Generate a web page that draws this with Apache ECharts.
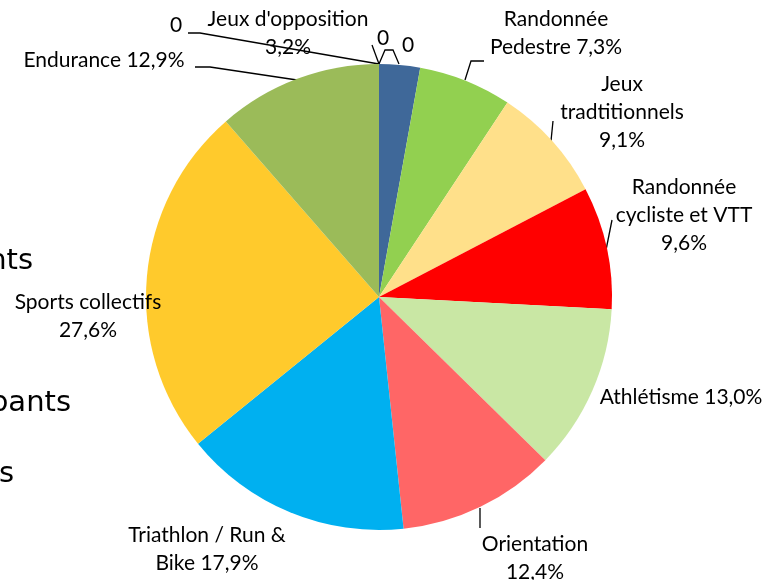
<!DOCTYPE html>
<html>
<head>
<meta charset="utf-8">
<script src="https://cdn.jsdelivr.net/npm/echarts@6/dist/echarts.min.js"></script>
<style>html,body{margin:0;padding:0;background:#fff}#c{width:769px;height:580px}</style>
</head>
<body>
<div id="c"></div>
<script>
// ---- data ----
var categories = ['', '', "Jeux d'opposition", 'Randonnée\nPedestre', 'Jeux\ntradtitionnels', 'Randonnée\ncycliste et VTT', 'Athlétisme', 'Orientation', 'Triathlon / Run &\nBike', 'Sports collectifs', 'Endurance', ''];
var values = [0, 0, 3.2, 7.3, 9.1, 9.6, 13.0, 12.4, 17.9, 27.6, 12.9, 0];
var separators = ['', '', '\n', ' ', '\n', '\n', ' ', '\n', ' ', '\n', ' ', ''];
var colors = ['#3F6899', '#3F6899', '#3F6899', '#92D050', '#FFE08A', '#FF0000', '#C9E7A4', '#FF6666', '#00B0F0', '#FFCA2C', '#9BBB59', '#9BBB59'];
var sideTexts = ['nts', 'pants', 's'];

// ---- layout (label placement) ----
var labelPos = [
  {x: 383, y: 38, line: [[379, 64], [372, 45]]},
  {x: 408, y: 45, line: [[379, 64], [385, 50], [393, 50], [399, 64]]},
  {x: 288, y: 33, line: null},
  {x: 556, y: 33, line: [[465, 80], [471, 61], [484, 61]]},
  {x: 622, y: 112, line: [[551, 141], [553, 121]]},
  {x: 684, y: 215, line: [[606, 250], [612, 220]]},
  {x: 681, y: 397, line: null},
  {x: 535, y: 558, line: [[480, 508], [480, 528]]},
  {x: 207, y: 549, line: null},
  {x: 88, y: 316, line: null},
  {x: 104, y: 60, line: [[297, 80], [210, 67], [195, 67]]},
  {x: 176, y: 25, line: [[379, 64], [200, 33], [188, 33]]}
];

function fmt(v) {
  var s = v.toFixed(1).replace('.', ',');
  return s + '%';
}

var data = categories.map(function (n, i) {
  return {
    name: n,
    value: values[i],
    itemStyle: {color: colors[i]},
    label: {formatter: values[i] === 0 ? '0' : n + separators[i] + fmt(values[i])},
    labelLine: {show: !!labelPos[i].line}
  };
});

var chart = echarts.init(document.getElementById('c'), null, {renderer: 'canvas'});
chart.setOption({
  animation: false,
  backgroundColor: '#ffffff',
  graphic: [
    {type: 'text', right: 769 - 33, top: 247, style: {text: sideTexts[0], font: '29px "DejaVu Sans"', fill: '#000'}},
    {type: 'text', right: 769 - 71, top: 389, style: {text: sideTexts[1], font: '29px "DejaVu Sans"', fill: '#000'}},
    {type: 'text', right: 769 - 14, top: 460, style: {text: sideTexts[2], font: '29px "DejaVu Sans"', fill: '#000'}}
  ],
  series: [{
    type: 'pie',
    center: [379, 297],
    radius: 233,
    startAngle: 90,
    clockwise: true,
    avoidLabelOverlap: false,
    minShowLabelAngle: 0,
    stillShowZeroSum: true,
    data: data,
    itemStyle: {borderWidth: 0},
    emphasis: {disabled: true},
    label: {
      show: true,
      position: 'outside',
      color: '#000',
      fontFamily: 'Lato',
      fontSize: 21,
      lineHeight: 28,
      align: 'center'
    },
    labelLine: {
      show: true,
      lineStyle: {color: '#000', width: 1.3}
    },
    labelLayout: function (p) {
      var lp = labelPos[p.dataIndex];
      var r = {x: lp.x, y: lp.y, align: 'center', verticalAlign: 'middle', hideOverlap: false, moveOverlap: null};
      if (lp.line) r.labelLinePoints = lp.line;
      return r;
    }
  }]
});
</script>
</body>
</html>
